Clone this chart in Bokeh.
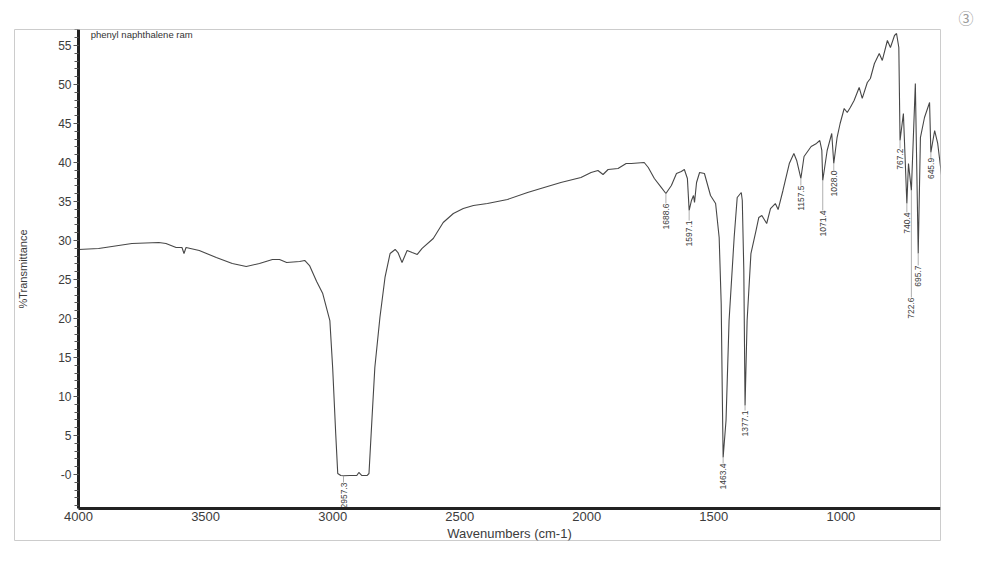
import math
from bokeh.plotting import figure
from bokeh.models import Range1d, FixedTicker, SingleIntervalTicker, Label, ColumnDataSource
from bokeh.core.properties import value
from bokeh.embed import file_html
from bokeh.resources import INLINE

# ---- data ----
wavenumber = [4000, 3921, 3790, 3684, 3656, 3616, 3593, 3585, 3577, 3525, 3458, 3395, 3340, 3288,
              3237, 3209, 3181, 3130, 3110, 3091, 3063, 3039, 3011, 3000, 2988, 2980, 2968, 2957.3,
              2932, 2905, 2897, 2885, 2865, 2857, 2845, 2834, 2814, 2794, 2774, 2754, 2743, 2727,
              2707, 2687, 2667, 2648, 2604, 2565, 2525, 2486, 2446, 2391, 2312, 2233, 2181, 2102,
              2023, 1983, 1956, 1936, 1916, 1877, 1845, 1825, 1774, 1758, 1734, 1707, 1688.6, 1667,
              1647, 1628, 1616, 1604, 1597.1, 1588, 1580, 1576, 1568, 1556, 1537, 1513, 1493, 1479,
              1471, 1467, 1463.4, 1452, 1440, 1420, 1408, 1392, 1388, 1382, 1377.1, 1369, 1354,
              1334, 1323, 1311, 1292, 1277, 1258, 1247, 1228, 1203, 1185, 1174, 1157.5, 1145, 1117,
              1096, 1083, 1075, 1071.4, 1054, 1036, 1028.0, 1015, 1003, 987, 975, 963, 948, 928,
              916, 896, 884, 868, 849, 837, 817, 805, 789, 781, 772, 767.2, 754, 740.4, 734, 722.6,
              707, 695.7, 687, 671, 651, 645.9, 631, 619, 600]
transmittance = [28.85, 28.97, 29.62, 29.74, 29.62, 29.10, 29.10, 28.33, 29.10, 28.72, 27.82, 27.05,
                 26.67, 27.05, 27.56, 27.56, 27.18, 27.31, 27.44, 26.79, 24.74, 23.2, 19.74, 13.72,
                 5.26, 0.13, -0.13, -0.15, -0.13, -0.13, 0.26, -0.13, -0.13, 0.13, 7.31, 13.72,
                 20.13, 25.26, 28.33, 28.85, 28.46, 27.18, 28.72, 28.46, 28.21, 29.0, 30.26, 32.31,
                 33.46, 34.1, 34.49, 34.74, 35.26, 36.15, 36.67, 37.44, 38.08, 38.72, 38.97, 38.46,
                 39.1, 39.23, 39.87, 39.87, 40.0, 39.36, 37.95, 36.8, 36.03, 37.05, 38.59, 38.85,
                 39.1, 37.95, 33.85, 35.13, 35.77, 34.87, 37.44, 38.72, 38.59, 35.77, 34.74, 30.38,
                 21.92, 11.15, 2.18, 6.92, 19.74, 30.38, 35.51, 36.15, 35.13, 26.15, 8.85, 19.74,
                 28.33, 31.28, 32.95, 33.2, 32.18, 34.1, 34.74, 33.97, 36.41, 39.87, 41.15, 40.26,
                 37.95, 40.77, 42.05, 42.44, 42.82, 41.54, 37.69, 41.54, 43.72, 39.87, 43.2, 45.0,
                 46.92, 46.41, 47.05, 47.95, 49.62, 48.21, 50.26, 50.77, 52.69, 53.97, 53.08, 55.64,
                 54.74, 56.28, 56.54, 54.74, 42.82, 46.28, 34.74, 39.87, 36.41, 50.13, 28.33, 43.2,
                 45.77, 47.69, 41.28, 44.1, 42.44, 37.31]

peak_wn = [2957.3, 1688.6, 1597.1, 1463.4, 1377.1, 1157.5, 1071.4, 1028.0, 767.2, 740.4, 722.6, 695.7, 645.9]
peak_text = ["2957.3", "1688.6", "1597.1", "1463.4", "1377.1", "1157.5", "1071.4", "1028.0",
             "767.2", "740.4", "722.6", "695.7", "645.9"]
peak_tip = [-0.15, 36.03, 33.85, 2.18, 8.85, 37.95, 37.69, 39.87, 42.82, 34.74, 36.41, 28.33, 41.28]
label_top = [-1.03, 34.74, 32.56, 1.41, 8.2, 37.05, 33.85, 38.97, 41.8, 33.6, 22.7, 26.8, 40.6]

x_ticks = [4000, 3500, 3000, 2500, 2000, 1500, 1000]
title_text = "phenyl naphthalene ram"
x_title = "Wavenumbers (cm-1)"
y_title = "%Transmittance"
page_mark = "③"

FONT = "Liberation Sans"
INK = "#3c3c3c"

# frame = the printed page box; the axes sit inside it at fixed data locations
p = figure(width=990, height=556, x_range=Range1d(4252, 608), y_range=Range1d(-8.46, 57.05),
           output_backend="svg", toolbar_location=None,
           min_border_left=14, min_border_right=50, min_border_top=29, min_border_bottom=16)
p.background_fill_color = "white"
p.border_fill_color = "white"
p.outline_line_color = "#cccccc"
p.outline_line_width = 1
p.xgrid.visible = False
p.ygrid.visible = False

# handwritten page mark, placed via the plot title (above the box, right side)
p.title.text = page_mark
p.title.align = "left"
p.title.offset = 944
p.title.text_font = "Noto Sans CJK JP"
p.title.text_font_size = "15px"
p.title.text_font_style = "normal"
p.title.text_color = "#9a9a9a"
p.title.standoff = 3

# x axis
xa = p.xaxis[0]
xa.fixed_location = -4.36
xa.bounds = (608, 4000)
xa.ticker = FixedTicker(ticks=x_ticks)
xa.axis_line_width = 3
xa.axis_line_color = "#222222"
xa.major_tick_line_color = None
xa.minor_tick_line_color = None
xa.major_tick_out = 0
xa.major_tick_in = 0
xa.minor_tick_out = 0
xa.minor_tick_in = 0
xa.major_label_standoff = 3
xa.major_label_text_font = FONT
xa.major_label_text_font_size = "13px"
xa.major_label_text_color = INK
xa.axis_label = x_title
xa.axis_label_text_font = FONT
xa.axis_label_text_font_size = "13px"
xa.axis_label_text_font_style = "normal"
xa.axis_label_text_color = INK
xa.axis_label_standoff = 2

# y axis
ya = p.yaxis[0]
ya.fixed_location = 4000
ya.bounds = (-4.36, 57.05)
ya.ticker = SingleIntervalTicker(interval=5, num_minor_ticks=5)
ya.axis_line_width = 3
ya.axis_line_color = "#222222"
ya.major_tick_line_color = "#555555"
ya.minor_tick_line_color = "#555555"
ya.major_tick_out = 5
ya.major_tick_in = 0
ya.minor_tick_out = 4
ya.minor_tick_in = 0
ya.major_label_standoff = 2
ya.major_label_overrides = {0: "-0"}
ya.major_label_text_font = FONT
ya.major_label_text_font_size = "12px"
ya.major_label_text_color = INK
ya.axis_label = y_title
ya.axis_label_text_font = FONT
ya.axis_label_text_font_size = "11px"
ya.axis_label_text_font_style = "normal"
ya.axis_label_text_color = INK
ya.axis_label_standoff = 26

# spectrum
p.line(wavenumber, transmittance, line_color="#474747", line_width=1.1)

# peak leaders and labels
src = ColumnDataSource(dict(x=peak_wn, tip=peak_tip, top=label_top, t=peak_text))
p.segment(x0="x", y0="tip", x1="x", y1="top", source=src, line_color="#9a9a9a", line_width=0.8)
p.text(x="x", y="top", text="t", source=src, angle=math.pi / 2, text_align="right",
       text_baseline="middle", text_font=value(FONT), text_font_size="8.5px", text_color=INK)

# title inside frame
p.add_layout(Label(x=3952, y=56.47, text=title_text, text_font=FONT, text_font_size="9.5px",
                   text_baseline="middle", text_color="#333333"))

open("out.html", "w").write(file_html(p, INLINE))
